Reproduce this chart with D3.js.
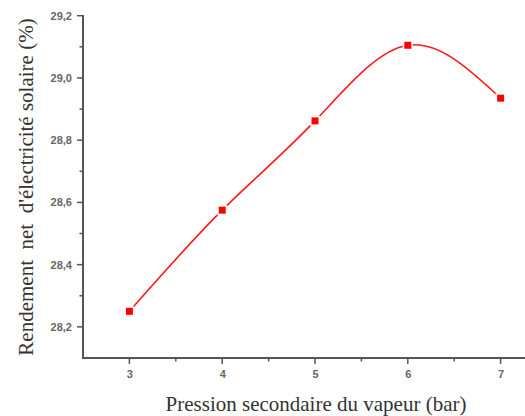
<!DOCTYPE html>
<html>
<head>
<meta charset="utf-8">
<script src="https://cdn.jsdelivr.net/npm/d3@7"></script>
<style>
  body { margin: 0; background: #fff; }
</style>
</head>
<body>
<div id="chart"></div>
<script>
// data
var pressure = [3, 4, 5, 6, 7];
var rendement = [28.25, 28.575, 28.862, 29.105, 28.935];
var xTicks = [3, 4, 5, 6, 7];
var yTicks = [28.2, 28.4, 28.6, 28.8, 29.0, 29.2];

var width = 525, height = 416;

var svg = d3.select("#chart").append("svg")
    .attr("width", width)
    .attr("height", height);

var x = d3.scaleLinear().domain([2.5, 7.5]).range([83, 547]);
var y = d3.scaleLinear().domain([28.1, 29.2]).range([358, 15.7]);

// minor ticks
var xMinor = [3.5, 4.5, 5.5, 6.5];
var yMinor = [28.3, 28.5, 28.7, 28.9, 29.1];

var axisCol = "#555";

// x axis
var gx = svg.append("g").attr("transform", "translate(0,358)");
gx.append("line").attr("x1", 82).attr("x2", 525)
    .attr("stroke", axisCol).attr("stroke-width", 2);
gx.selectAll(".maj").data(xTicks).enter().append("line")
    .attr("x1", d => x(d)).attr("x2", d => x(d))
    .attr("y1", 0).attr("y2", 6)
    .attr("stroke", axisCol).attr("stroke-width", 1.5);
gx.selectAll(".min").data(xMinor).enter().append("line")
    .attr("x1", d => x(d)).attr("x2", d => x(d))
    .attr("y1", 0).attr("y2", 3.5)
    .attr("stroke", axisCol).attr("stroke-width", 1.5);
gx.selectAll("text").data(xTicks).enter().append("text")
    .attr("x", d => x(d) + 0.5).attr("y", 19.5)
    .attr("text-anchor", "middle")
    .attr("font-family", "Liberation Sans, Arial, sans-serif")
    .attr("font-size", 11)
    .attr("font-weight", "bold")
    .attr("fill", "#666")
    .text(d => d);

// y axis
var gy = svg.append("g").attr("transform", "translate(83,0)");
gy.append("line").attr("y1", 15).attr("y2", 359)
    .attr("stroke", axisCol).attr("stroke-width", 2);
gy.selectAll(".maj").data(yTicks).enter().append("line")
    .attr("y1", d => y(d)).attr("y2", d => y(d))
    .attr("x1", 0).attr("x2", -6)
    .attr("stroke", axisCol).attr("stroke-width", 1.5);
gy.selectAll(".min").data(yMinor).enter().append("line")
    .attr("y1", d => y(d)).attr("y2", d => y(d))
    .attr("x1", 0).attr("x2", -3.5)
    .attr("stroke", axisCol).attr("stroke-width", 1.5);
gy.selectAll("text").data(yTicks).enter().append("text")
    .attr("x", -11).attr("y", d => y(d) + 4)
    .attr("text-anchor", "end")
    .attr("font-family", "Liberation Sans, Arial, sans-serif")
    .attr("font-size", 11)
    .attr("font-weight", "bold")
    .attr("fill", "#666")
    .text(d => d3.format(".1f")(d).replace(".", ","));

// axis titles
svg.append("text")
    .attr("x", 316).attr("y", 411)
    .attr("text-anchor", "middle")
    .attr("font-family", "Liberation Serif, Times New Roman, serif")
    .attr("font-size", 21)
    .attr("fill", "#333")
    .text("Pression secondaire du vapeur (bar)");

svg.append("text")
    .attr("transform", "translate(33,187) rotate(-90)")
    .attr("text-anchor", "middle")
    .attr("font-family", "Liberation Serif, Times New Roman, serif")
    .attr("font-size", 21)
    .attr("fill", "#333")
    .style("white-space", "pre")
    .text("Rendement  net  d'électricité solaire (%)");

// curve
var pts = pressure.map((p, i) => [p, rendement[i]]);
var line = d3.line()
    .x(d => x(d[0]))
    .y(d => y(d[1]))
    .curve(d3.curveNatural);

svg.append("path")
    .datum(pts)
    .attr("d", line)
    .attr("fill", "none")
    .attr("stroke", "#ff1a1a")
    .attr("stroke-width", 1.6);

// markers with white halo for the gap
svg.selectAll(".pt").data(pts).enter().append("rect")
    .attr("x", d => x(d[0]) - 3.5)
    .attr("y", d => y(d[1]) - 3.5)
    .attr("width", 7).attr("height", 7)
    .attr("fill", "#ff0000")
    .attr("stroke", "#fff")
    .attr("stroke-width", 3)
    .attr("paint-order", "stroke");
</script>
</body>
</html>
